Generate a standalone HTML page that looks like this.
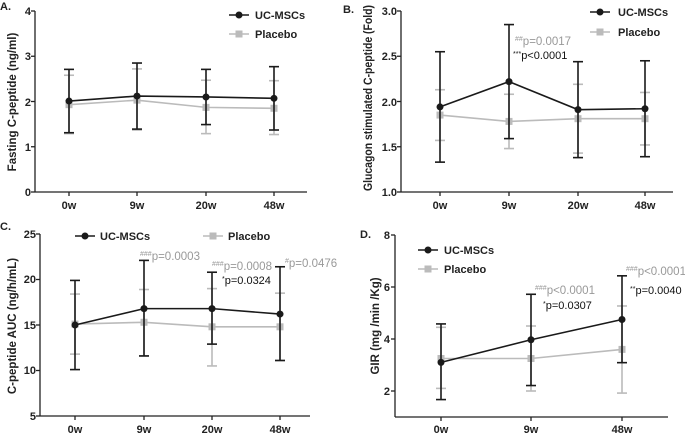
<!DOCTYPE html>
<html><head><meta charset="utf-8"><style>
body{margin:0;background:#fff}
svg{display:block;font-family:"Liberation Sans",Arial,sans-serif}
.t{font-size:11px;font-weight:bold;fill:#222}
.yl{font-size:11.5px;font-weight:bold;fill:#222}
.g{font-size:11.5px;fill:#999}
.k{font-size:11px;fill:#111}
.sup{font-size:7px}
</style></head><body>
<svg id="s" width="685" height="433" viewBox="0 0 685 433" xmlns="http://www.w3.org/2000/svg">
<g id="plots"></g>
<text x="0" y="10" class="t">A.</text>
<g class="t" text-anchor="end">
<text x="31" y="15">4</text><text x="31" y="60">3</text><text x="31" y="106">2</text><text x="31" y="151">1</text><text x="31" y="196">0</text>
</g>
<g class="t" text-anchor="middle">
<text x="69" y="209">0w</text><text x="137" y="209">9w</text><text x="206" y="209">20w</text><text x="274" y="209">48w</text>
</g>
<text class="yl" transform="translate(16,102) rotate(-90)" text-anchor="middle">Fasting C-peptide (ng/ml)</text>
<text x="255" y="19" class="t" font-size="11.5">UC-MSCs</text>
<text x="255" y="38" class="t" font-size="11.5">Placebo</text>
<text x="343" y="13" class="t">B.</text>
<g class="t" text-anchor="end">
<text x="397" y="15">3.0</text><text x="397" y="60">2.5</text><text x="397" y="106">2.0</text><text x="397" y="151">1.5</text><text x="397" y="196">1.0</text>
</g>
<g class="t" text-anchor="middle">
<text x="440" y="209">0w</text><text x="509" y="209">9w</text><text x="578" y="209">20w</text><text x="645" y="209">48w</text>
</g>
<text class="yl" transform="translate(372,98) rotate(-90)" text-anchor="middle" textLength="186" lengthAdjust="spacingAndGlyphs">Glucagon stimulated C-peptide (Fold)</text>
<text x="618" y="16" class="t" font-size="11.5">UC-MSCs</text>
<text x="618" y="36" class="t" font-size="11.5">Placebo</text>
<text x="515" y="45" class="g"><tspan class="sup" dy="-4">##</tspan><tspan dy="4">p=0.0017</tspan></text>
<text x="513" y="59" class="k"><tspan class="sup" dy="-3">***</tspan><tspan dy="3">p&lt;0.0001</tspan></text>
<text x="0" y="230" class="t">C.</text>
<g class="t" text-anchor="end">
<text x="36" y="238">25</text><text x="36" y="283">20</text><text x="36" y="329">15</text><text x="36" y="374">10</text><text x="36" y="420">5</text>
</g>
<g class="t" text-anchor="middle">
<text x="75" y="433">0w</text><text x="144" y="433">9w</text><text x="212" y="433">20w</text><text x="280" y="433">48w</text>
</g>
<text class="yl" transform="translate(16,326) rotate(-90)" text-anchor="middle">C-peptide AUC (ng/h/mL)</text>
<text x="100" y="240" class="t" font-size="11.5">UC-MSCs</text>
<text x="228" y="240" class="t" font-size="11.5">Placebo</text>
<text x="140" y="260" class="g"><tspan class="sup" dy="-4">###</tspan><tspan dy="4">p=0.0003</tspan></text>
<text x="212" y="270" class="g"><tspan class="sup" dy="-4">###</tspan><tspan dy="4">p=0.0008</tspan></text>
<text x="222" y="284" class="k"><tspan class="sup" dy="-3">*</tspan><tspan dy="3">p=0.0324</tspan></text>
<text x="285" y="267" class="g"><tspan class="sup" dy="-4">#</tspan><tspan dy="4">p=0.0476</tspan></text>
<text x="360" y="238" class="t">D.</text>
<g class="t" text-anchor="end">
<text x="390" y="239">8</text><text x="390" y="291">6</text><text x="390" y="343">4</text><text x="390" y="395">2</text>
</g>
<g class="t" text-anchor="middle">
<text x="441" y="433">0w</text><text x="531" y="433">9w</text><text x="622" y="433">48w</text>
</g>
<text class="yl" transform="translate(379,326) rotate(-90)" text-anchor="middle">GIR (mg /min /Kg)</text>
<text x="444" y="254" class="t" font-size="11.5">UC-MSCs</text>
<text x="444" y="273" class="t" font-size="11.5">Placebo</text>
<text x="535" y="294" class="g"><tspan class="sup" dy="-4">###</tspan><tspan dy="4">p&lt;0.0001</tspan></text>
<text x="543" y="309" class="k"><tspan class="sup" dy="-3">*</tspan><tspan dy="3">p=0.0307</tspan></text>
<text x="626" y="275" class="g"><tspan class="sup" dy="-4">###</tspan><tspan dy="4">p&lt;0.0001</tspan></text>
<text x="630" y="294" class="k"><tspan class="sup" dy="-3">**</tspan><tspan dy="3">p=0.0040</tspan></text>
</svg>
<script>
var NS="http://www.w3.org/2000/svg",G=document.getElementById("plots");
function el(t,a){var e=document.createElementNS(NS,t);for(var k in a)e.setAttribute(k,a[k]);G.appendChild(e);return e;}
function panel(p){
 var Y=function(v){return p.y0+(v-p.v0)*(p.y1-p.y0)/(p.v1-p.v0);};
 el("line",{x1:p.ax,y1:p.y1,x2:p.ax,y2:p.ybot,stroke:"#222","stroke-width":1.3});
 el("line",{x1:p.ax,y1:p.ybot,x2:p.xend,y2:p.ybot,stroke:"#222","stroke-width":1.3});
 p.yt.forEach(function(v){el("line",{x1:p.ax-4,y1:Y(v),x2:p.ax,y2:Y(v),stroke:"#222","stroke-width":1.3});});
 p.xs.forEach(function(x){el("line",{x1:x,y1:p.ybot,x2:x,y2:p.ybot+4,stroke:"#222","stroke-width":1.3});});
 [[p.pl,"#bbb","sq"],[p.uc,"#1a1a1a","c"]].forEach(function(s){
  var d=s[0],c=s[1];
  d.m.forEach(function(m,i){var x=p.xs[i];
   el("line",{x1:x,y1:Y(d.u[i]),x2:x,y2:Y(d.l[i]),stroke:c,"stroke-width":1.6});
   el("line",{x1:x-5,y1:Y(d.u[i]),x2:x+5,y2:Y(d.u[i]),stroke:c,"stroke-width":1.6});
   el("line",{x1:x-5,y1:Y(d.l[i]),x2:x+5,y2:Y(d.l[i]),stroke:c,"stroke-width":1.6});});
  el("polyline",{points:d.m.map(function(m,i){return p.xs[i]+","+Y(m);}).join(" "),fill:"none",stroke:c,"stroke-width":1.6});
  d.m.forEach(function(m,i){var x=p.xs[i];
   if(s[2]=="c")el("circle",{cx:x,cy:Y(m),r:3.5,fill:c});
   else el("rect",{x:x-3.5,y:Y(m)-3.5,width:7,height:7,fill:c});});
 });
 var L=p.leg;
 [[L[0],L[1],"#1a1a1a","c"],[L[2],L[3],"#bbb","sq"]].forEach(function(l){
  el("line",{x1:l[0],y1:l[1],x2:l[0]+20,y2:l[1],stroke:l[2],"stroke-width":1.6});
  if(l[3]=="c")el("circle",{cx:l[0]+10,cy:l[1],r:3.5,fill:l[2]});
  else el("rect",{x:l[0]+6.5,y:l[1]-3.5,width:7,height:7,fill:l[2]});});
}
panel({ax:35,xend:307,y0:192,y1:11,v0:0,v1:4,ybot:192,yt:[0,1,2,3,4],xs:[69,137,206,274],
 uc:{m:[2.01,2.12,2.10,2.07],u:[2.71,2.85,2.71,2.77],l:[1.31,1.39,1.49,1.37]},
 pl:{m:[1.93,2.03,1.87,1.85],u:[2.58,2.72,2.47,2.46],l:[1.29,1.37,1.29,1.27]},leg:[229,15,229,34]});
panel({ax:401,xend:673,y0:192,y1:11,v0:1,v1:3,ybot:192,yt:[1,1.5,2,2.5,3],xs:[440,509,578,645],
 uc:{m:[1.94,2.22,1.91,1.92],u:[2.55,2.85,2.44,2.45],l:[1.33,1.59,1.38,1.39]},
 pl:{m:[1.85,1.78,1.81,1.81],u:[2.13,2.08,2.19,2.10],l:[1.57,1.48,1.43,1.52]},leg:[590,12,590,32]});
panel({ax:40,xend:310,y0:416,y1:234,v0:5,v1:25,ybot:416,yt:[5,10,15,20,25],xs:[75,144,212,280],
 uc:{m:[15,16.8,16.8,16.2],u:[19.9,22.1,20.8,21.4],l:[10.1,11.6,12.9,11.1]},
 pl:{m:[15.1,15.3,14.8,14.8],u:[18.4,18.9,19.0,18.5],l:[11.8,11.6,10.5,11.1]},leg:[75,236,203,236]});
panel({ax:395,xend:668,y0:391,y1:235,v0:2,v1:8,ybot:417,yt:[2,4,6,8],xs:[441,531,622],
 uc:{m:[3.1,3.97,4.75],u:[4.58,5.72,6.43],l:[1.67,2.21,3.09]},
 pl:{m:[3.25,3.25,3.6],u:[4.45,4.5,5.27],l:[2.1,2.0,1.92]},leg:[418,250,418,269]});
</script>
</body></html>
